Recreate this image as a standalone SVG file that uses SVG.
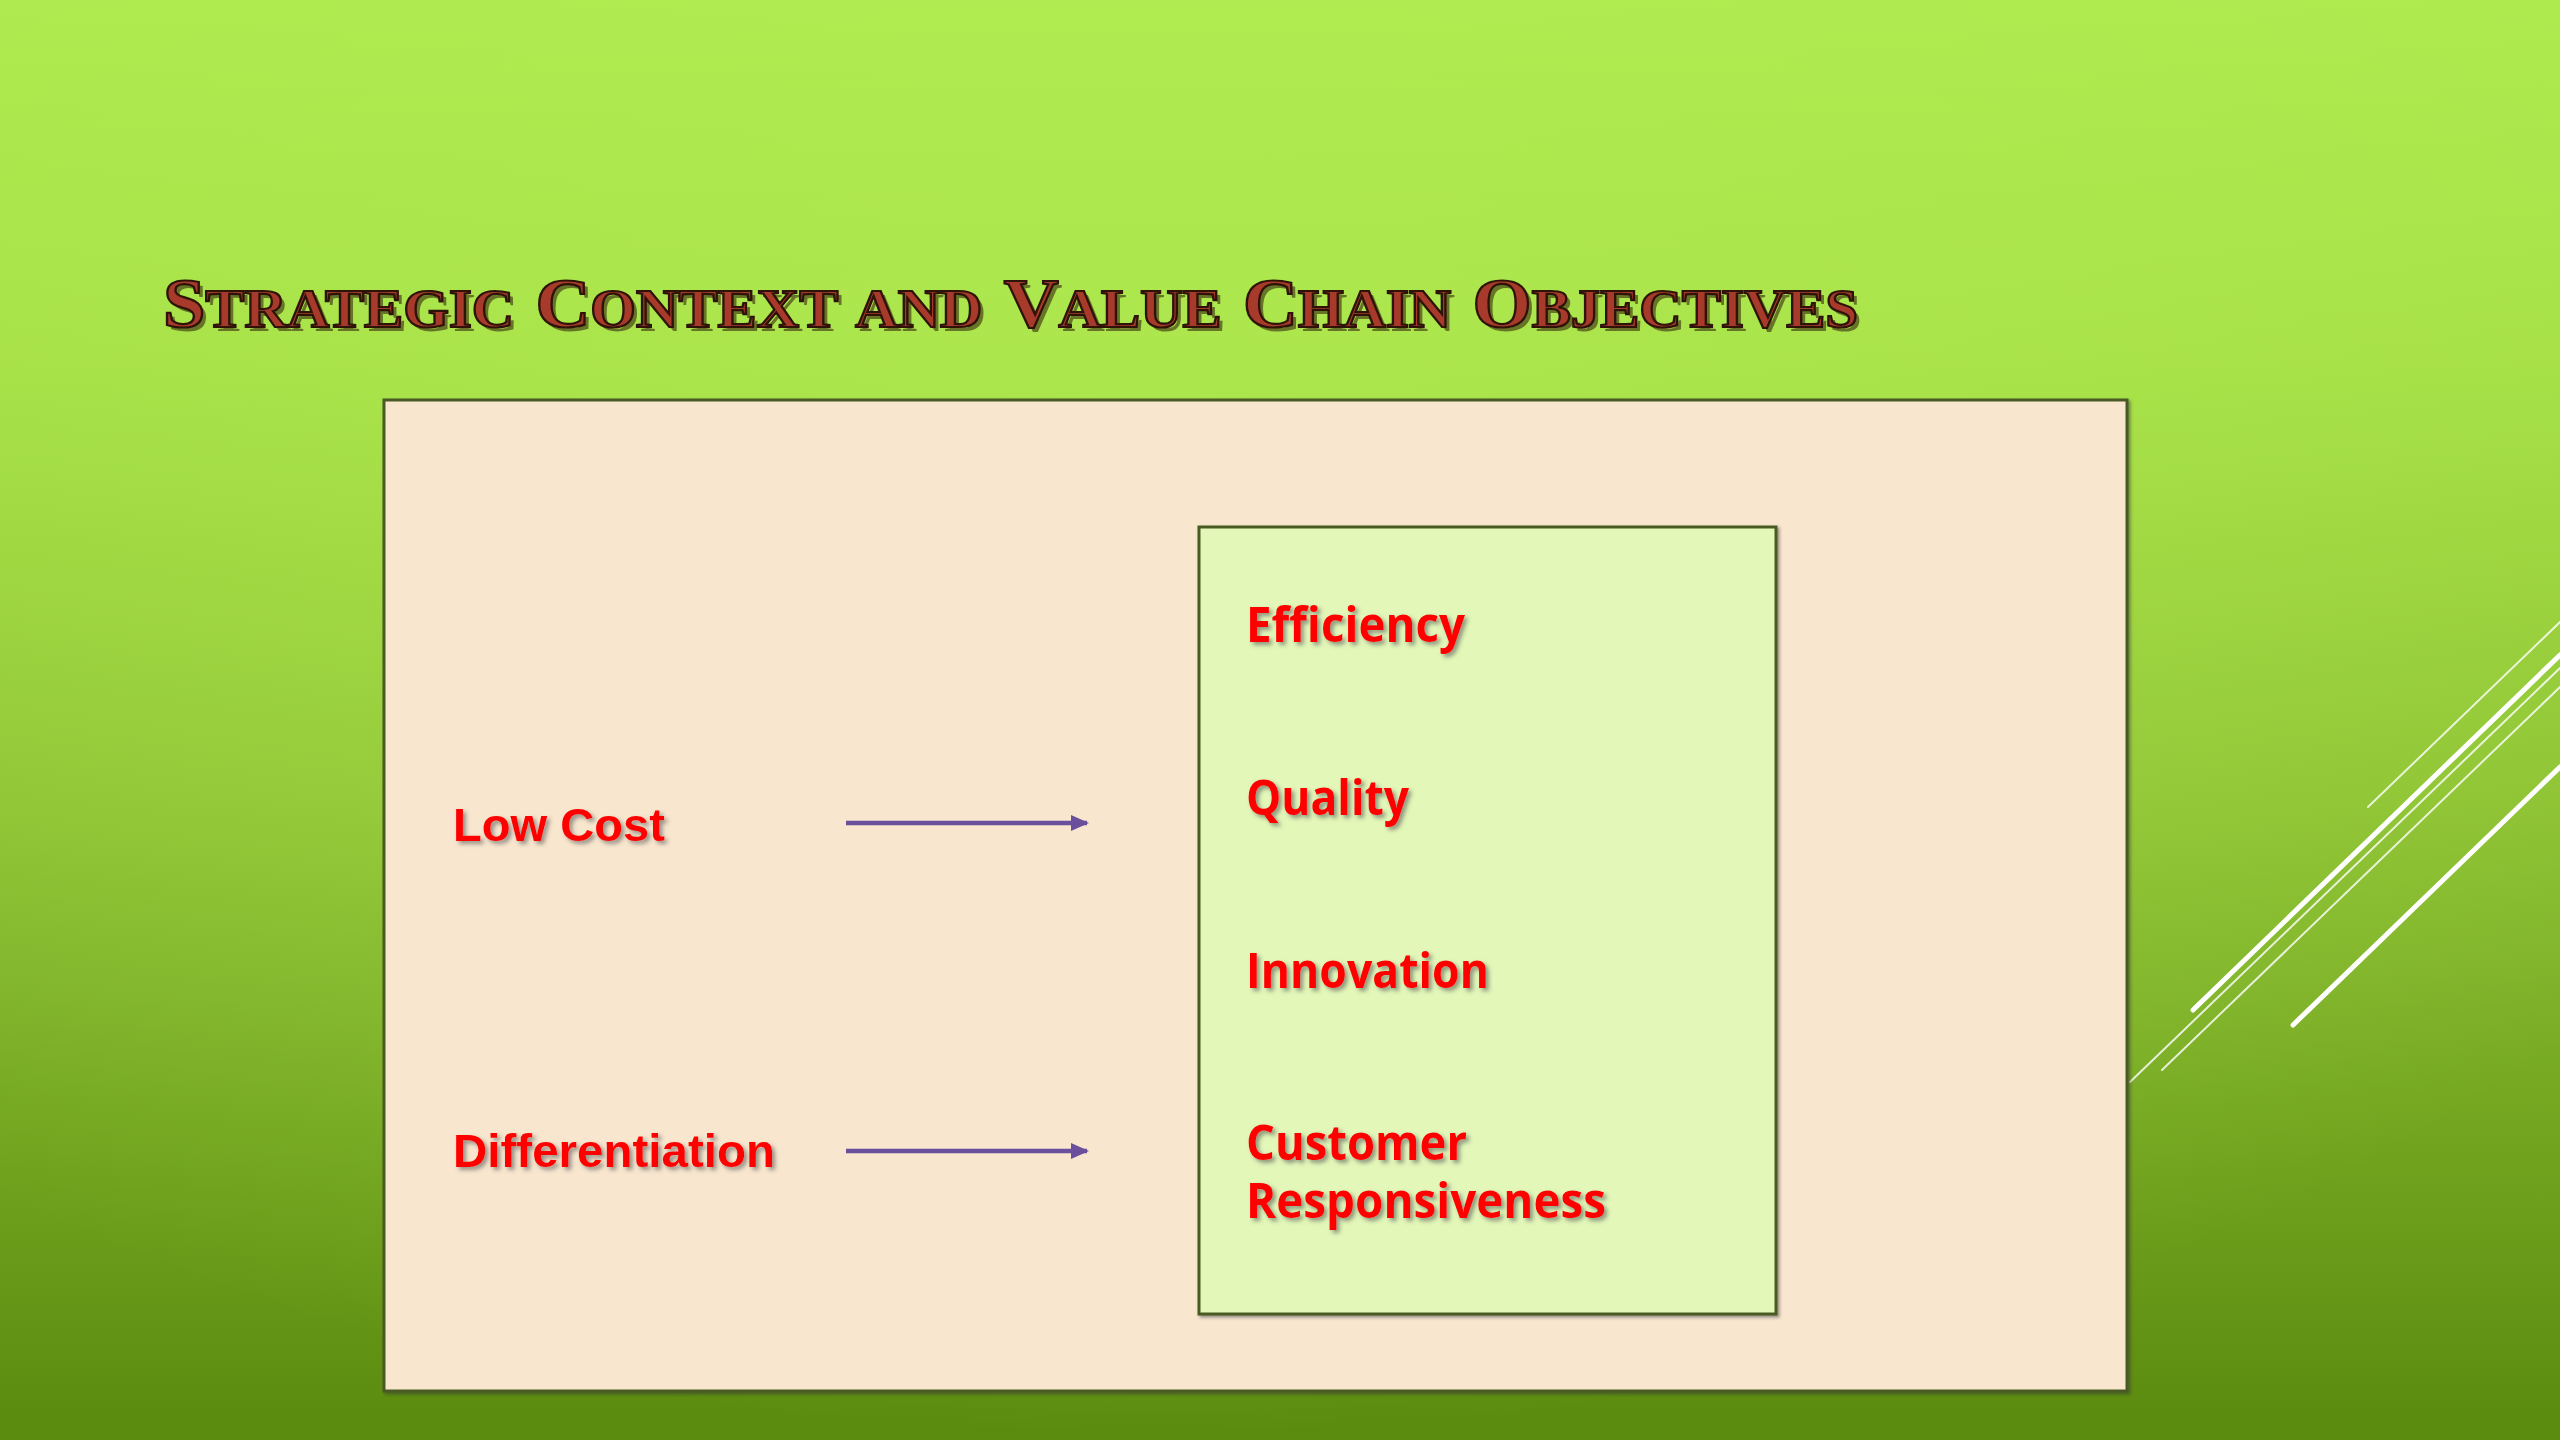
<svg xmlns="http://www.w3.org/2000/svg" width="2560" height="1440" viewBox="0 0 2560 1440">
<defs>
<linearGradient id="bg" x1="0" y1="0" x2="0" y2="1">
<stop offset="0" stop-color="#AEEA4E"/>
<stop offset="0.25" stop-color="#A6E046"/>
<stop offset="0.55" stop-color="#8EC234"/>
<stop offset="1" stop-color="#5A8A0E"/>
</linearGradient>
<radialGradient id="glow" cx="0.45" cy="0.3" r="0.7">
<stop offset="0" stop-color="#B4EE55" stop-opacity="0.5"/>
<stop offset="1" stop-color="#B4EE55" stop-opacity="0"/>
</radialGradient>
<filter id="sh" x="-10%" y="-20%" width="120%" height="150%">
<feDropShadow dx="3" dy="3" stdDeviation="2" flood-color="#555" flood-opacity="0.6"/>
</filter>
<filter id="boxsh" x="-5%" y="-5%" width="110%" height="110%">
<feDropShadow dx="2" dy="2" stdDeviation="1.5" flood-color="#333" flood-opacity="0.5"/>
</filter>
<marker id="arr" markerUnits="userSpaceOnUse" markerWidth="18" markerHeight="16" refX="16" refY="8" orient="auto">
<path d="M0,0 L18,8 L0,16 Z" fill="#6A4F9C"/>
</marker>
<style>
.lbl{font-family:"Liberation Sans",Arial,sans-serif;font-weight:700;font-size:47px;fill:#FF0000;filter:url(#sh)}
.obj{font-family:"Open Sans","Noto Sans",sans-serif;font-weight:700;font-size:48px;fill:#FF0000;filter:url(#sh)}
.title{font-family:"Liberation Serif","Times New Roman",serif;font-weight:700;font-size:70px;word-spacing:6px}
.sc{font-size:54px}
.deco{stroke:#FFFFFF;stroke-linecap:round;fill:none}
.conn{stroke:#6A4F9C;stroke-width:4.5;fill:none}
</style>
</defs>
<rect width="2560" height="1440" fill="url(#bg)"/>
<rect width="2560" height="1440" fill="url(#glow)"/>
<g id="decoration">
<line class="deco" x1="2368" y1="807" x2="2560" y2="622" stroke-width="2" opacity="0.8"/>
<line class="deco" x1="2193" y1="1010" x2="2560" y2="655" stroke-width="5"/>
<line class="deco" x1="2130" y1="1082" x2="2560" y2="668" stroke-width="2" opacity="0.8"/>
<line class="deco" x1="2162" y1="1070" x2="2560" y2="687" stroke-width="2" opacity="0.8"/>
<line class="deco" x1="2293" y1="1025" x2="2560" y2="767" stroke-width="5"/>
</g>
<g id="title">
<text class="title" x="167" y="331" fill="#3A2A10" opacity="0.6" textLength="1695" lengthAdjust="spacingAndGlyphs">S<tspan class="sc">TRATEGIC </tspan>C<tspan class="sc">ONTEXT AND </tspan>V<tspan class="sc">ALUE </tspan>C<tspan class="sc">HAIN </tspan>O<tspan class="sc">BJECTIVES</tspan></text>
<text class="title" x="163" y="327" fill="#A83A2C" stroke="#2E1408" stroke-width="2.2" textLength="1695" lengthAdjust="spacingAndGlyphs">S<tspan class="sc">TRATEGIC </tspan>C<tspan class="sc">ONTEXT AND </tspan>V<tspan class="sc">ALUE </tspan>C<tspan class="sc">HAIN </tspan>O<tspan class="sc">BJECTIVES</tspan></text>
</g>
<g id="outer-box">
<rect x="384" y="400" width="1743" height="991" fill="#F8E6CE" stroke="#4A5A22" stroke-width="3" filter="url(#boxsh)"/>
</g>
<g id="objectives-box">
<rect x="1199" y="527" width="577" height="787" fill="#E2F7B8" stroke="#4A5A22" stroke-width="3" filter="url(#boxsh)"/>
<text class="obj" x="1246" y="642" textLength="219" lengthAdjust="spacingAndGlyphs">Efficiency</text>
<text class="obj" x="1246" y="815" textLength="163" lengthAdjust="spacingAndGlyphs">Quality</text>
<text class="obj" x="1246" y="988" textLength="243" lengthAdjust="spacingAndGlyphs">Innovation</text>
<text class="obj"><tspan x="1246" y="1160" textLength="221" lengthAdjust="spacingAndGlyphs">Customer</tspan><tspan x="1246" y="1218" textLength="360" lengthAdjust="spacingAndGlyphs">Responsiveness</tspan></text>
</g>
<g id="low-cost">
<text class="lbl" x="453" y="841" textLength="212" lengthAdjust="spacingAndGlyphs">Low Cost</text>
</g>
<g id="differentiation">
<text class="lbl" x="453" y="1167" textLength="322" lengthAdjust="spacingAndGlyphs">Differentiation</text>
</g>
<g id="connectors">
<line class="conn" x1="846" y1="823" x2="1087" y2="823" marker-end="url(#arr)"/>
<line class="conn" x1="846" y1="1151" x2="1087" y2="1151" marker-end="url(#arr)"/>
</g>
</svg>
